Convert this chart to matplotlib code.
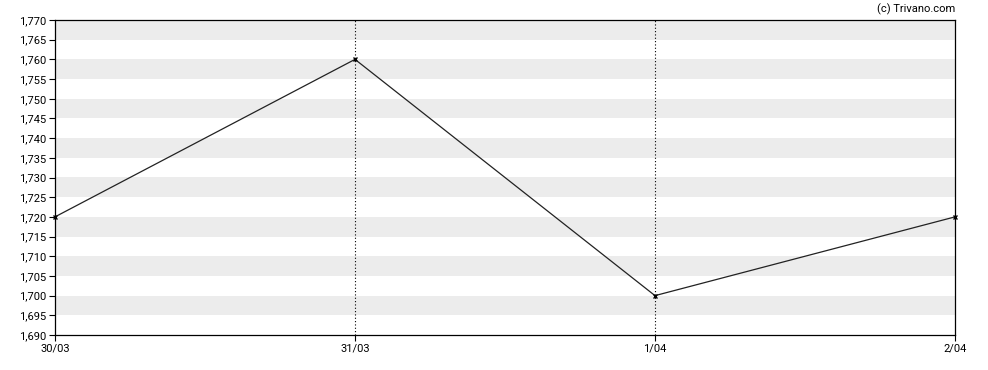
import matplotlib.pyplot as plt
from matplotlib.ticker import FuncFormatter
import numpy as np

plt.rcParams['font.family'] = ['Roboto', 'DejaVu Sans']

dates = ["30/03", "31/03", "1/04", "2/04"]
prices = [1.720, 1.760, 1.700, 1.720]
y_min, y_max, y_step = 1.690, 1.770, 0.005


def main() -> None:
    fig = plt.figure(figsize=(9.88, 3.70), dpi=100)
    ax = fig.add_axes([55 / 988, 1 - 335 / 370, 900 / 988, 315 / 370])

    x = np.arange(len(dates))
    ax.set_xlim(x[0], x[-1])
    ax.set_ylim(y_min, y_max)

    # alternating grey bands, starting from the top
    edges = np.arange(y_max, y_min - 1e-9, -y_step)
    for i, top in enumerate(edges[:-1]):
        if i % 2 == 0:
            ax.axhspan(top - y_step, top, color="#ececec", lw=0, zorder=0)

    for xi in x[1:-1]:
        ax.axvline(xi, color="black", lw=0.8, ls=(0, (1, 2)), zorder=1)

    ax.plot(x, prices, color="#222222", lw=0.9, marker="x", ms=3.5, mew=1.0,
            mec="black", zorder=3, clip_on=False)

    ax.set_xticks(x)
    ax.set_xticklabels(dates)
    ax.set_yticks(np.round(np.arange(y_min, y_max + 1e-9, y_step), 3))
    ax.yaxis.set_major_formatter(FuncFormatter(lambda v, p: f"{v:.3f}".replace(".", ",")))
    ax.tick_params(labelsize=8, length=4, width=0.8, color="black", pad=2)

    for s in ax.spines.values():
        s.set_linewidth(0.9)

    fig.text(955 / 988, 1 - 9 / 370, "(c) Trivano.com", ha="right", va="center", fontsize=8)

    fig.savefig("out.png", dpi=100)


if __name__ == "__main__":
    main()
